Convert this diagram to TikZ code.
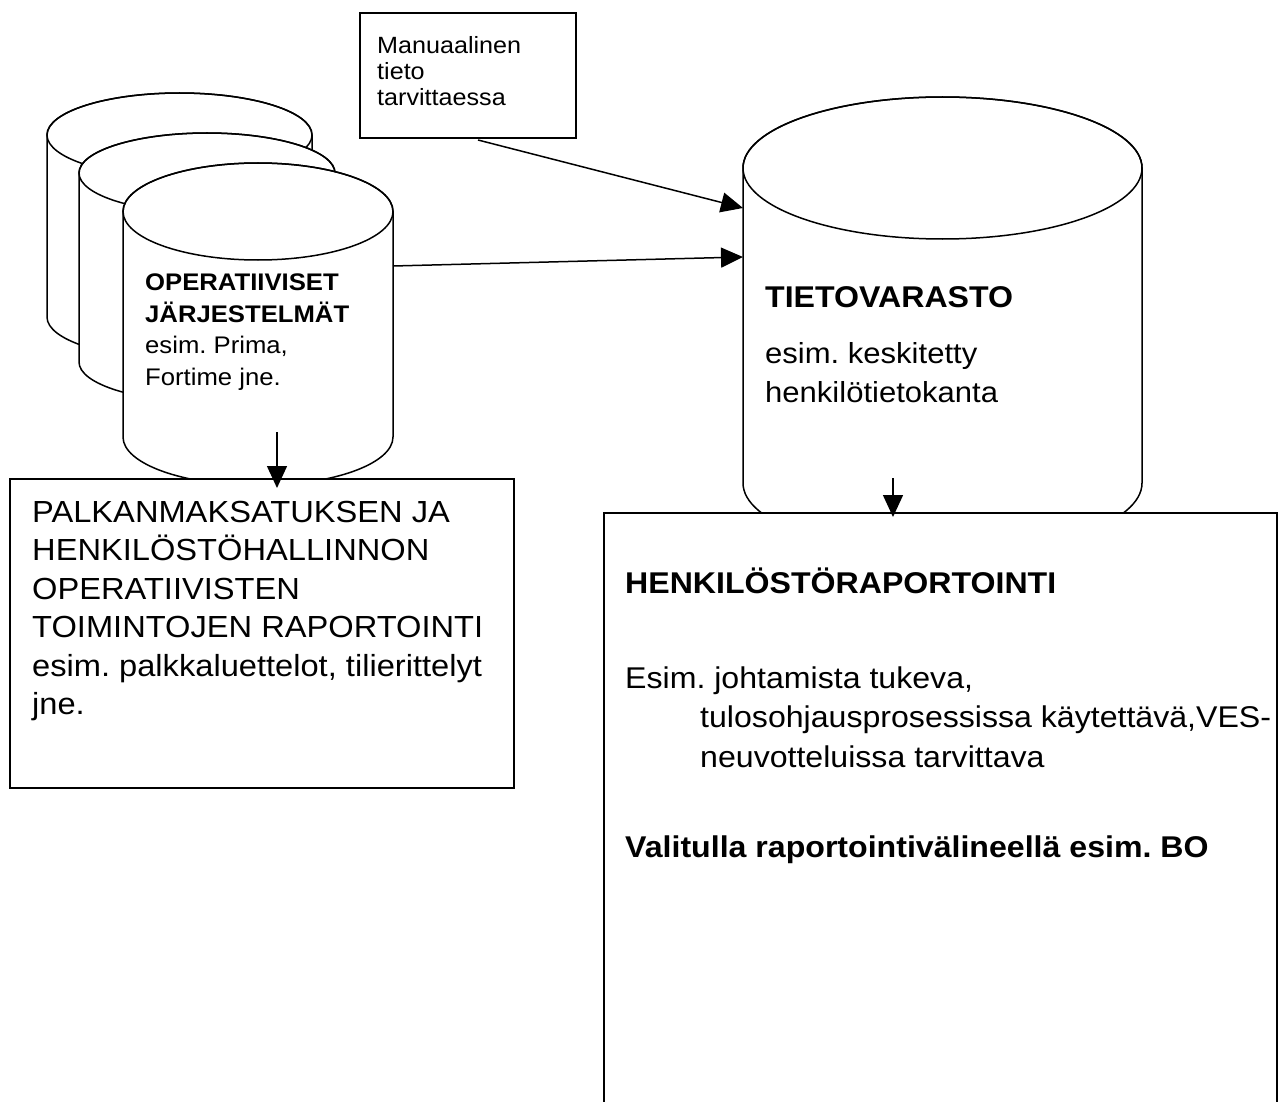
\documentclass[tikz,border=0pt]{standalone}
\usepackage{fontspec}
\setmainfont{Liberation Sans}[FakeStretch=1.07]
\usetikzlibrary{arrows.meta}
\frenchspacing
\begin{document}
\begin{tikzpicture}[x=1pt,y=-1pt,
  cylline/.style={draw=black,fill=white,line width=1.5pt},
  boxline/.style={draw=black,fill=white,line width=1.8pt,inner sep=0pt,anchor=north west},
  arr/.style={line width=1.5pt,-{Triangle[length=22pt,width=20pt]}},
  tline/.style={anchor=base west,inner sep=0pt},
  fA/.style={font=\fontsize{23.5}{28}\selectfont},
  fB/.style={font=\fontsize{24}{28}\selectfont},
  fBb/.style={font=\fontsize{24}{28}\selectfont\bfseries},
  fC/.style={font=\fontsize{29}{35}\selectfont},
  fCb/.style={font=\fontsize{30}{36}\selectfont\bfseries},
  fE/.style={font=\fontsize{30.5}{37}\selectfont},
  fD/.style={font=\fontsize{30}{36}\selectfont},
  fDb/.style={font=\fontsize{30}{36}\selectfont\bfseries}]
\useasboundingbox (0,0) rectangle (1279,1102);
\fill[white] (0,0) rectangle (1279,1102);

% back cylinder 1
\path[cylline] (47,135) -- (47,317) arc[start angle=180,end angle=360,x radius=132.5pt,y radius=42pt] -- (312,135) arc[start angle=0,end angle=180,x radius=132.5pt,y radius=42pt] -- cycle;
\draw[line width=1.5pt] (179.5,135) ellipse[x radius=132.5pt,y radius=42pt];
% back cylinder 2
\path[cylline] (79,173) -- (79,362) arc[start angle=180,end angle=360,x radius=128pt,y radius=40pt] -- (335,173) arc[start angle=0,end angle=180,x radius=128pt,y radius=40pt] -- cycle;
\draw[line width=1.5pt] (207,173) ellipse[x radius=128pt,y radius=40pt];
% front cylinder
\path[cylline] (123,211.5) -- (123,437) arc[start angle=180,end angle=360,x radius=135pt,y radius=48.5pt] -- (393,211.5) arc[start angle=0,end angle=180,x radius=135pt,y radius=48.5pt] -- cycle;
\draw[line width=1.5pt] (258,211.5) ellipse[x radius=135pt,y radius=48.5pt];
% big cylinder
\path[cylline] (743,168) -- (743,483) arc[start angle=180,end angle=360,x radius=199.5pt,y radius=71pt] -- (1142,168) arc[start angle=0,end angle=180,x radius=199.5pt,y radius=71pt] -- cycle;
\draw[line width=1.5pt] (942.5,168) ellipse[x radius=199.5pt,y radius=71pt];

% boxes
\node[boxline,minimum width=216pt,minimum height=125pt] (man) at (359,12) {};
\node[boxline,minimum width=504pt,minimum height=309pt] (pay) at (9,478) {};
\node[boxline,minimum width=673pt,minimum height=594pt] (rep) at (603,512) {};

% texts: manual box
\node[tline,fA] (m1) at (377,54) {Manuaalinen};
\node[tline,fA] (m2) at (377,80) {tieto};
\node[tline,fA] (m3) at (377,106) {tarvittaessa};
% front cylinder
\node[tline,fBb] (o1) at (145,290) {OPERATIIVISET};
\node[tline,fBb] (o2) at (145,322) {JÄRJESTELMÄT};
\node[tline,fB] (o3) at (145,353) {esim. Prima,};
\node[tline,fB] (o4) at (145,385) {Fortime jne.};
% big cylinder
\node[tline,fCb] (t1) at (765,307) {TIETOVARASTO};
\node[tline,fC] (t2) at (765,363) {esim. keskitetty};
\node[tline,fC] (t3) at (765,402) {henkilötietokanta};
% left box
\node[tline,fE] (p1) at (32,522) {PALKANMAKSATUKSEN JA};
\node[tline,fE] (p2) at (32,560.5) {HENKILÖSTÖHALLINNON};
\node[tline,fE] (p3) at (32,599) {OPERATIIVISTEN};
\node[tline,fE] (p4) at (32,637.5) {TOIMINTOJEN RAPORTOINTI};
\node[tline,fE] (p5) at (32,676) {esim. palkkaluettelot, tilierittelyt};
\node[tline,fE] (p6) at (32,714.5) {jne.};
% right box
\node[tline,fDb] (r1) at (625,593) {HENKILÖSTÖRAPORTOINTI};
\node[tline,fD] (r2) at (625,688) {Esim. johtamista tukeva,};
\node[tline,fD] (r3) at (700,727) {tulosohjausprosessissa käytettävä,VES-};
\node[tline,fD] (r4) at (700,767) {neuvotteluissa tarvittava};
\node[tline,fDb] (r5) at (625,857) {Valitulla raportointivälineellä esim. BO};

% connector end points
\coordinate (manS) at (478,140);
\coordinate (dw1) at (743,208);
\coordinate (opsR) at (393,266);
\coordinate (dw2) at (743,257);
\coordinate (opsB) at (277,432);
\coordinate (payT) at (277,488);
\coordinate (dwB) at (893,478);
\coordinate (repT) at (893,517);

\draw[arr] (manS) -- (dw1);
\draw[arr] (opsR) -- (dw2);
\draw[arr] (opsB) -- (payT);
\draw[arr] (dwB) -- (repT);
\end{tikzpicture}
\end{document}
